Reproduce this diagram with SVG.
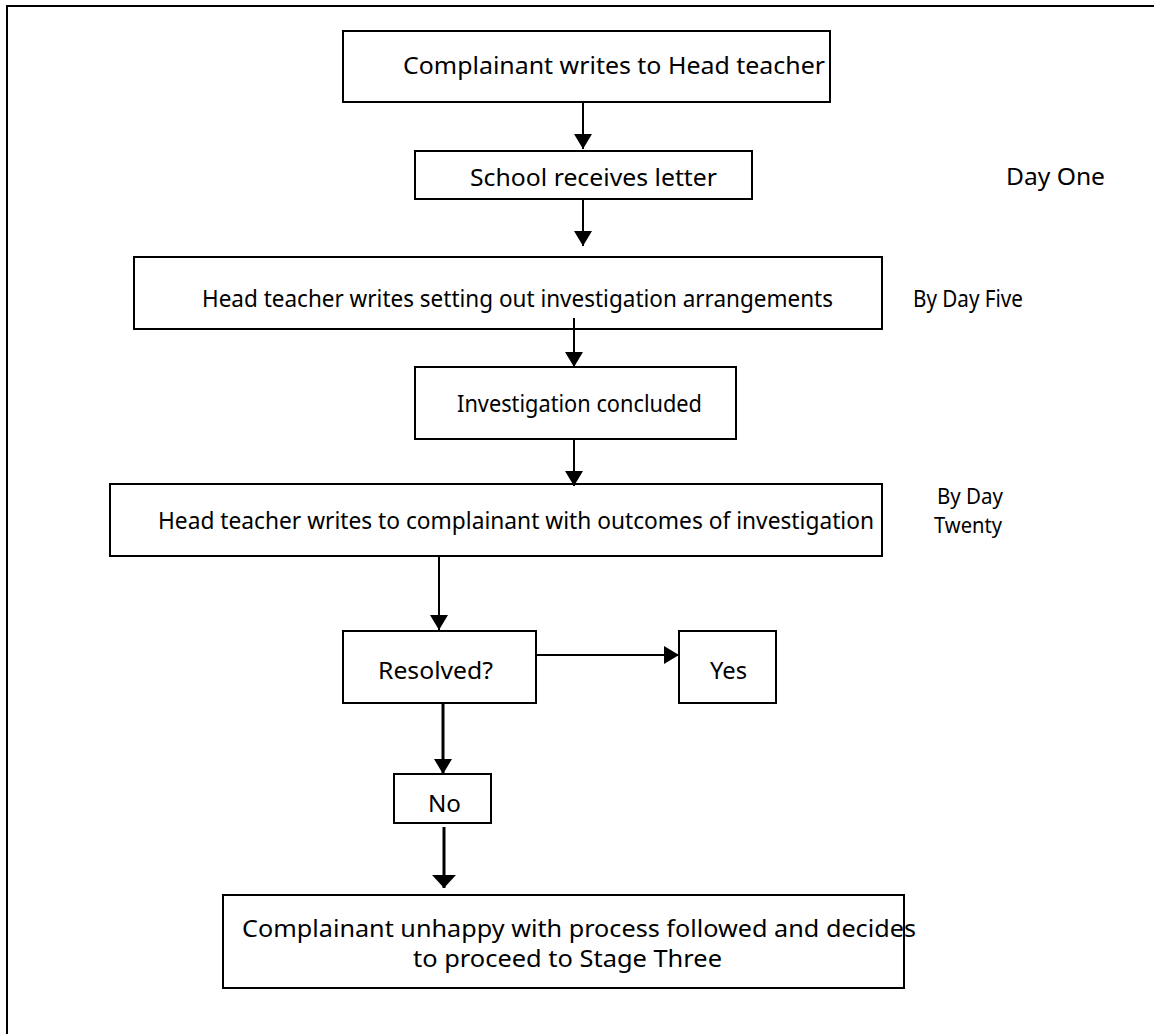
<svg xmlns="http://www.w3.org/2000/svg" width="1154" height="1034" viewBox="0 0 1154 1034">
<style>
.box{fill:#fff;stroke:#000;stroke-width:2}
.t{font-family:"Noto Sans","Open Sans","DejaVu Sans",sans-serif;font-size:24px;fill:#000}
.s{font-size:22px}
.c{stroke:#000;stroke-width:2;fill:none}
.thick{stroke:#000;stroke-width:3;fill:none}
</style>
<defs>
<marker id="ah" markerUnits="userSpaceOnUse" markerWidth="16" markerHeight="20" refX="15" refY="9" orient="auto">
<path d="M0,0 L15,9 L0,18 Z" fill="#000"/>
</marker>
<marker id="ahb" markerUnits="userSpaceOnUse" markerWidth="14" markerHeight="26" refX="13" refY="12" orient="auto">
<path d="M0,0 L13,12 L0,24 Z" fill="#000"/>
</marker>
</defs>
<rect x="0" y="0" width="1154" height="1034" fill="#fff"/>
<rect x="7" y="6" width="1160" height="1040" fill="none" stroke="#000" stroke-width="2"/>

<g id="n1">
<rect class="box" x="343" y="31" width="487" height="71"/>
<text class="t" x="403" y="74" textLength="422" lengthAdjust="spacingAndGlyphs">Complainant writes to Head teacher</text>
</g>
<g id="n2">
<rect class="box" x="415" y="151" width="337" height="48"/>
<text class="t" x="470" y="186" textLength="247" lengthAdjust="spacingAndGlyphs">School receives letter</text>
</g>
<g id="lbl1">
<text class="t" x="1006" y="185" textLength="99" lengthAdjust="spacingAndGlyphs">Day One</text>
</g>
<g id="n3">
<rect class="box" x="134" y="257" width="748" height="72"/>
<text class="t" x="202" y="307" textLength="631" lengthAdjust="spacingAndGlyphs">Head teacher writes setting out investigation arrangements</text>
</g>
<g id="lbl2">
<text class="t" x="913" y="307" textLength="110" lengthAdjust="spacingAndGlyphs">By Day Five</text>
</g>
<g id="n4">
<rect class="box" x="415" y="367" width="321" height="72"/>
<text class="t" x="457" y="412" textLength="245" lengthAdjust="spacingAndGlyphs">Investigation concluded</text>
</g>
<g id="n5">
<rect class="box" x="110" y="484" width="772" height="72"/>
<text class="t" x="158" y="529" textLength="716" lengthAdjust="spacingAndGlyphs">Head teacher writes to complainant with outcomes of investigation</text>
</g>
<g id="lbl3">
<text class="t s" x="937" y="504" textLength="66" lengthAdjust="spacingAndGlyphs">By Day</text>
<text class="t s" x="934" y="533" textLength="68" lengthAdjust="spacingAndGlyphs">Twenty</text>
</g>
<g id="n6">
<rect class="box" x="343" y="631" width="193" height="72"/>
<text class="t" x="378" y="679" textLength="115" lengthAdjust="spacingAndGlyphs">Resolved?</text>
</g>
<g id="n7">
<rect class="box" x="679" y="631" width="97" height="72"/>
<text class="t" x="710" y="679" textLength="37" lengthAdjust="spacingAndGlyphs">Yes</text>
</g>
<g id="n8">
<rect class="box" x="394" y="774" width="97" height="49"/>
<text class="t" x="428" y="812" textLength="33" lengthAdjust="spacingAndGlyphs">No</text>
</g>
<g id="n9">
<rect class="box" x="223" y="895" width="681" height="93"/>
<text class="t" x="242" y="937" textLength="674" lengthAdjust="spacingAndGlyphs">Complainant unhappy with process followed and decides</text>
<text class="t" x="413" y="967" textLength="309" lengthAdjust="spacingAndGlyphs">to proceed to Stage Three</text>
</g>

<g id="connectors">
<line class="c" x1="583" y1="102" x2="583" y2="149" marker-end="url(#ah)"/>
<line class="c" x1="583" y1="199" x2="583" y2="246" marker-end="url(#ah)"/>
<line class="c" x1="574" y1="318" x2="574" y2="367" marker-end="url(#ah)"/>
<line class="c" x1="574" y1="439" x2="574" y2="486" marker-end="url(#ah)"/>
<line class="c" x1="439" y1="556" x2="439" y2="630" marker-end="url(#ah)"/>
<line class="c" x1="536" y1="655" x2="679" y2="655" marker-end="url(#ah)"/>
<line class="thick" x1="443" y1="703" x2="443" y2="774" marker-end="url(#ah)"/>
<line class="thick" x1="444" y1="827" x2="444" y2="888" marker-end="url(#ahb)"/>
</g>
</svg>
